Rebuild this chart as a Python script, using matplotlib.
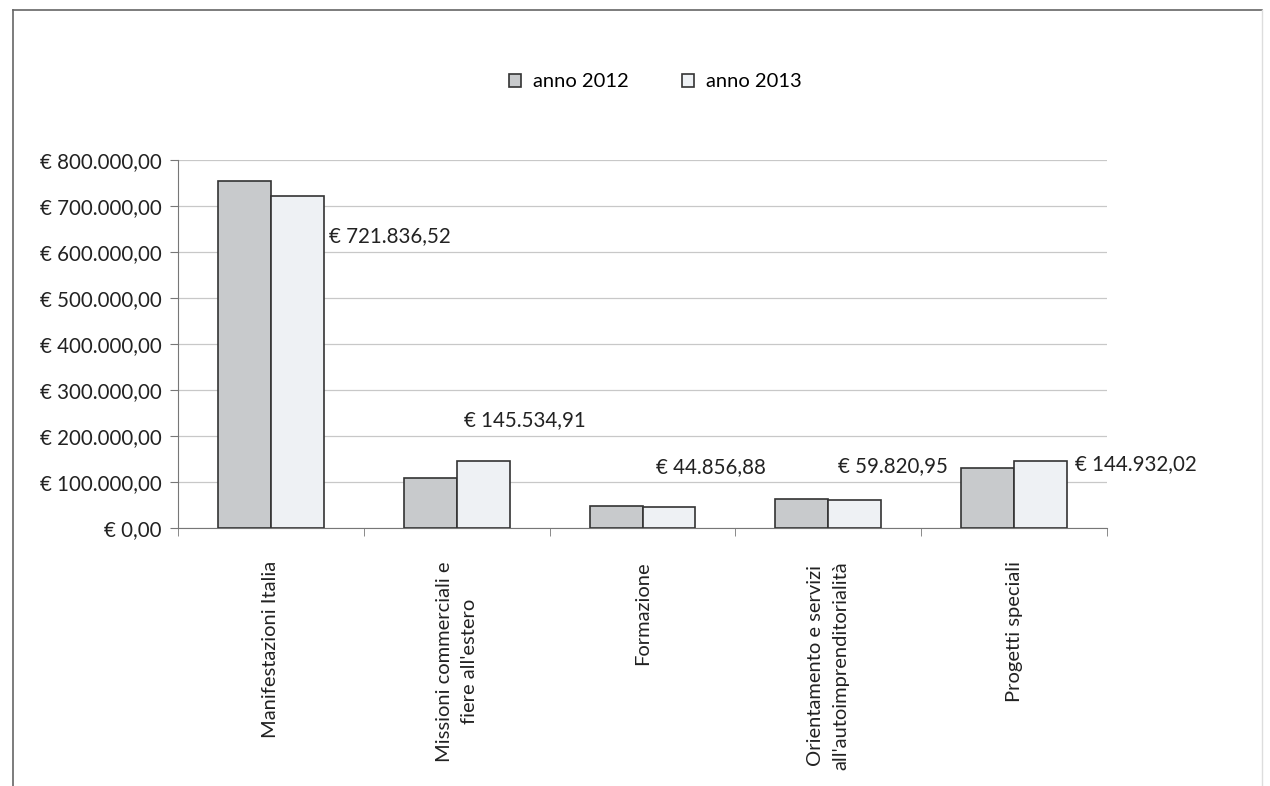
import matplotlib.pyplot as plt
from matplotlib.lines import Line2D
import numpy as np

plt.rcParams['font.family'] = ['Lato', 'DejaVu Sans']

# ── Dati ──────────────────────────────────────────────────────────────
categorie = [
    "Manifestazioni Italia",
    "Missioni commerciali e\nfiere all'estero",
    "Formazione",
    "Orientamento e servizi\nall'autoimprenditorialità",
    "Progetti speciali",
]
anno_2012 = [754000, 109000, 47000, 63000, 131000]
anno_2013 = [721836.52, 145534.91, 44856.88, 59820.95, 144932.02]
y_ticks = [0, 100000, 200000, 300000, 400000, 500000, 600000, 700000, 800000]

# spostamento delle etichette (pixel) rispetto al centro/top della barra 2013
label_dx = [32, -19, -13, -17, 34]
label_dy = [-40, 41, 40, 34, -3]


def euro(v):
    s = f"{v:,.2f}".replace(",", "X").replace(".", ",").replace("X", ".")
    return f"€ {s}"


# ── Grafico ───────────────────────────────────────────────────────────
fig = plt.figure(figsize=(12.7, 7.86), dpi=100)
fig.patch.set_facecolor("white")
ax = fig.add_axes([178 / 1270, 1 - 528 / 786, (1107 - 178) / 1270, (528 - 160) / 786])

x = np.arange(len(categorie))
w = 0.285
b12 = ax.bar(x - w / 2, anno_2012, w, color="#c8cacc", edgecolor="#333333",
             linewidth=1.2, label="anno 2012", zorder=3)
b13 = ax.bar(x + w / 2, anno_2013, w, color="#eef1f4", edgecolor="#333333",
             linewidth=1.2, label="anno 2013", zorder=3)

for xi, v, dx, dy in zip(x, anno_2013, label_dx, label_dy):
    ax.annotate(euro(v), xy=(xi + w / 2, v), xytext=(dx, dy),
                textcoords="offset pixels", ha="left", va="center",
                fontsize=14.8, color="#222222")

ax.set_xlim(-0.5, len(categorie) - 0.5)
ax.set_ylim(0, 800000)
ax.set_yticks(y_ticks)
ax.set_yticklabels([euro(t) for t in y_ticks], fontsize=14.8, color="#222222")
ax.yaxis.grid(True, color="#c8c8c8", linewidth=0.9, zorder=0)

ax.set_xticks(x)
ax.set_xticklabels(categorie, rotation=90, fontsize=14.5, color="#222222",
                   va="top", ha="center", multialignment="center",
                   linespacing=1.6)
ax.set_xticks(np.arange(-0.5, len(categorie)), minor=True)
ax.tick_params(axis="x", which="major", length=0, pad=24)
ax.tick_params(axis="x", which="minor", length=6, color="#777777")
ax.tick_params(axis="y", length=6, color="#777777", pad=6)

for s in ["top", "right"]:
    ax.spines[s].set_visible(False)
ax.spines["left"].set_color("#777777")
ax.spines["bottom"].set_color("#777777")

fig.legend(handles=[b12, b13], loc="center", bbox_to_anchor=(0.516, 0.896),
           ncol=2, frameon=False, fontsize=14.5, handlelength=0.6,
           handleheight=0.6, columnspacing=2.6, handletextpad=0.6)

# cornice del riquadro
fig.add_artist(Line2D([13 / 1270, 1262 / 1270], [1 - 10 / 786, 1 - 10 / 786],
                      transform=fig.transFigure, color="#666666", lw=1.2))
fig.add_artist(Line2D([13 / 1270, 13 / 1270], [0, 1 - 10 / 786],
                      transform=fig.transFigure, color="#666666", lw=1.2))
fig.add_artist(Line2D([1262 / 1270, 1262 / 1270], [0, 1 - 10 / 786],
                      transform=fig.transFigure, color="#dddddd", lw=1.0))

fig.savefig("out.png", dpi=100, facecolor="white")
